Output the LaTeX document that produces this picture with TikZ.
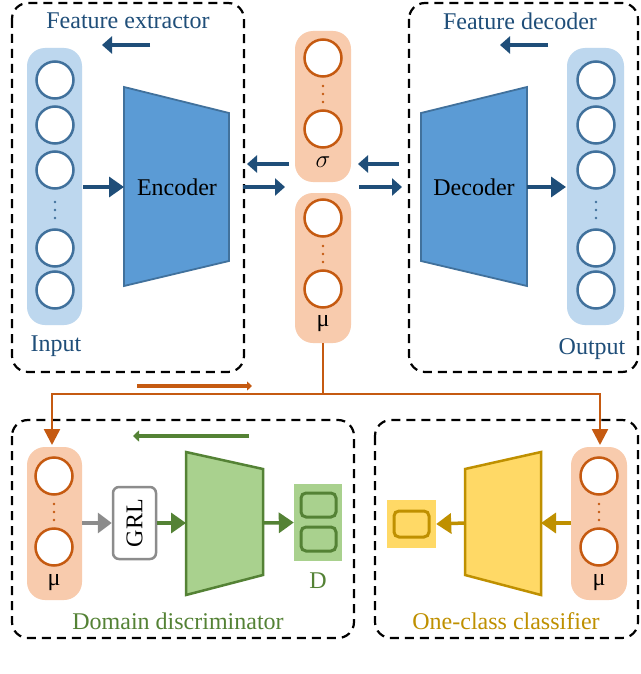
\documentclass[tikz,border=0pt]{standalone}
\usepackage{fontspec}
\setmainfont{Liberation Serif}
\usetikzlibrary{arrows.meta}
\definecolor{dblue}{HTML}{1F4E79}
\definecolor{mblue}{HTML}{41719C}
\definecolor{lblue}{HTML}{BDD7EE}
\definecolor{eblue}{HTML}{5B9BD5}
\definecolor{lorange}{HTML}{F8CBAD}
\definecolor{dorange}{HTML}{C55A11}
\definecolor{lgreen}{HTML}{A9D18E}
\definecolor{dgreen}{HTML}{548235}
\definecolor{lgold}{HTML}{FFD966}
\definecolor{dgold}{HTML}{BF9000}
\begin{document}
\begin{tikzpicture}[x=1pt,y=-1pt,
  frame/.style={draw,line width=2.2pt,dash pattern=on 9pt off 6pt,rounded corners=16pt},
  col/.style={rounded corners=18pt},
  neuron/.style={circle,draw,fill=white,line width=2.5pt,minimum size=37pt,inner sep=0pt},
  big/.style={font=\fontsize{24}{28}\selectfont},
  fat/.style={line width=4.5pt,-{Triangle[length=10pt,width=17pt]}},
  thin/.style={line width=3.5pt,-{Triangle[length=15pt,width=20pt]}}]
\newcommand{\vdts}[3]{\foreach \d in {-8,0,8} \fill[#3] (#1,#2+\d) circle (1.3pt);}
\fill[white] (0,0) rectangle (640,674);
\useasboundingbox (0,0) rectangle (640,674);
% frames
\draw[frame] (12,3) rectangle (244,372);
\draw[frame] (409,3) rectangle (638,372);
\draw[frame] (12,420) rectangle (354,638);
\draw[frame] (375,420) rectangle (638,638);
\node[big,text=dblue] (t1) at (128,21) {Feature extractor};
\node[big,text=dblue] (t2) at (520,21) {Feature decoder};
\coordinate (a1s) at (150,45); \coordinate (a1e) at (102,45);
\draw[dblue,fat] (a1s) -- (a1e);
\coordinate (a2s) at (548,45); \coordinate (a2e) at (500,45);
\draw[dblue,fat] (a2s) -- (a2e);
% input column
\fill[lblue,col] (27,48) rectangle (82,325);
\foreach \y/\n in {80/i1,125/i2,170/i3,248/i4,290/i5} \node[neuron,draw=mblue] (\n) at (55,\y) {};
\vdts{55}{210}{mblue}
\node[big,text=dblue] (inp) at (56,346) {Input};
% output column
\fill[lblue,col] (567,48) rectangle (624,325);
\foreach \y/\n in {80/o1,125/o2,170/o3,248/o4,290/o5} \node[neuron,draw=mblue] (\n) at (596,\y) {};
\vdts{596}{210}{mblue}
\node[big,text=dblue] (outp) at (592,349) {Output};
% encoder/decoder
\draw[fill=eblue,draw=mblue,line width=1.8pt] (124,87) -- (229,113) -- (229,261) -- (124,286) -- cycle;
\node[big] (enc) at (177,187) {Encoder};
\draw[fill=eblue,draw=mblue,line width=1.8pt] (421,113) -- (527,87) -- (527,286) -- (421,261) -- cycle;
\node[big] (dec) at (474,187) {Decoder};
\coordinate (ein) at (124,187); \coordinate (iout) at (83,187);
\draw[dblue,thin] (iout) -- (ein);
\coordinate (dout) at (527,187); \coordinate (oin) at (566,187);
\draw[dblue,thin] (dout) -- (oin);
% sigma / mu
\fill[lorange,col] (295,31) rectangle (351,182);
\node[neuron,draw=dorange] (s1) at (323,58) {};
\node[neuron,draw=dorange] (s2) at (323,129) {};
\vdts{323}{94}{dorange}
\node[big] (sig) at (323,162) {$\sigma$};
\fill[lorange,col] (295,193) rectangle (351,343);
\node[neuron,draw=dorange] (m1) at (323,218) {};
\node[neuron,draw=dorange] (m2) at (323,289) {};
\vdts{323}{254}{dorange}
\node[big] (mu) at (323,324) {μ};
\coordinate (l1s) at (289,164); \coordinate (l1e) at (247,164);
\draw[dblue,fat] (l1s) -- (l1e);
\coordinate (l2s) at (399,164); \coordinate (l2e) at (358,164);
\draw[dblue,fat] (l2s) -- (l2e);
\coordinate (r1s) at (243,187); \coordinate (r1e) at (285,187);
\draw[dblue,fat] (r1s) -- (r1e);
\coordinate (r2s) at (359,187); \coordinate (r2e) at (402,187);
\draw[dblue,fat] (r2s) -- (r2e);
% orange connectors
\coordinate (mub) at (323,343); \coordinate (jn) at (323,394);
\coordinate (lt) at (52,445); \coordinate (rt) at (600,445);
\draw[dorange,line width=2.5pt] (mub) -- (jn);
\draw[dorange,line width=2.5pt,-{Triangle[length=16pt,width=16pt]}] (jn) -| (lt);
\draw[dorange,line width=2.5pt,-{Triangle[length=16pt,width=16pt]}] (jn) -| (rt);
\coordinate (oas) at (137,386); \coordinate (oae) at (252,386);
\draw[dorange,line width=3.5pt,-{Triangle[length=5pt,width=9pt]}] (oas) -- (oae);
% domain discriminator
\coordinate (gs) at (249,436); \coordinate (ge) at (133,436);
\draw[dgreen,line width=4pt,-{Triangle[length=6pt,width=11pt]}] (gs) -- (ge);
\fill[lorange,col] (27,447) rectangle (82,600);
\node[neuron,draw=dorange] (b1) at (54,476) {};
\node[neuron,draw=dorange] (b2) at (54,547) {};
\vdts{54}{512}{dorange}
\node[big] (bmu) at (54,583) {μ};
\node[draw=gray!90,line width=2.5pt,rounded corners=6pt,minimum width=43pt,minimum height=72pt] (grl) at (134.5,523) {};
\node[rotate=90,big] (grlt) at (134.5,523) {GRL};
\draw[gray!90,line width=4pt,-{Triangle[length=14pt,width=20pt]}] (82,523) -- (grl.west);
\draw[fill=lgreen,draw=dgreen,line width=2.5pt] (186,452) -- (263,469) -- (263,575) -- (186,595) -- cycle;
\coordinate (gin) at (186,523); \coordinate (gout) at (263,523);
\draw[dgreen,thin] (grl.east) -- (gin);
\node[fill=lgreen,minimum width=48pt,minimum height=77pt,inner sep=0pt] (dbox) at (318,522.5) {};
\draw[dgreen,thin] (gout) -- (dbox.west);
\draw[dgreen,line width=3pt,rounded corners=5pt] (301,493) rectangle (336,517);
\draw[dgreen,line width=3pt,rounded corners=5pt] (301,527) rectangle (336,551);
\node[big,text=dgreen] (dl) at (318,581) {D};
\node[big,text=dgreen] (dt) at (178,621) {Domain discriminator};
% one-class classifier
\fill[lorange,col] (571,447) rectangle (627,600);
\node[neuron,draw=dorange] (c1) at (599,476) {};
\node[neuron,draw=dorange] (c2) at (599,547) {};
\vdts{599}{512}{dorange}
\node[big] (cmu) at (599,583) {μ};
\draw[fill=lgold,draw=dgold,line width=2.5pt] (465,469) -- (541,452) -- (541,595) -- (465,575) -- cycle;
\coordinate (cin) at (541,523); \coordinate (cout) at (465,523);
\coordinate (cm) at (571,523);
\draw[dgold,thin] (cm) -- (cin);
\node[fill=lgold,minimum width=49pt,minimum height=48pt,inner sep=0pt] (gbox) at (411.5,524) {};
\draw[dgold,thin] (cout) -- (gbox.east);
\draw[dgold,line width=3pt,rounded corners=5pt] (394,511) rectangle (429,537);
\node[big,text=dgold] (ct) at (506,621) {One-class classifier};
\end{tikzpicture}
\end{document}
